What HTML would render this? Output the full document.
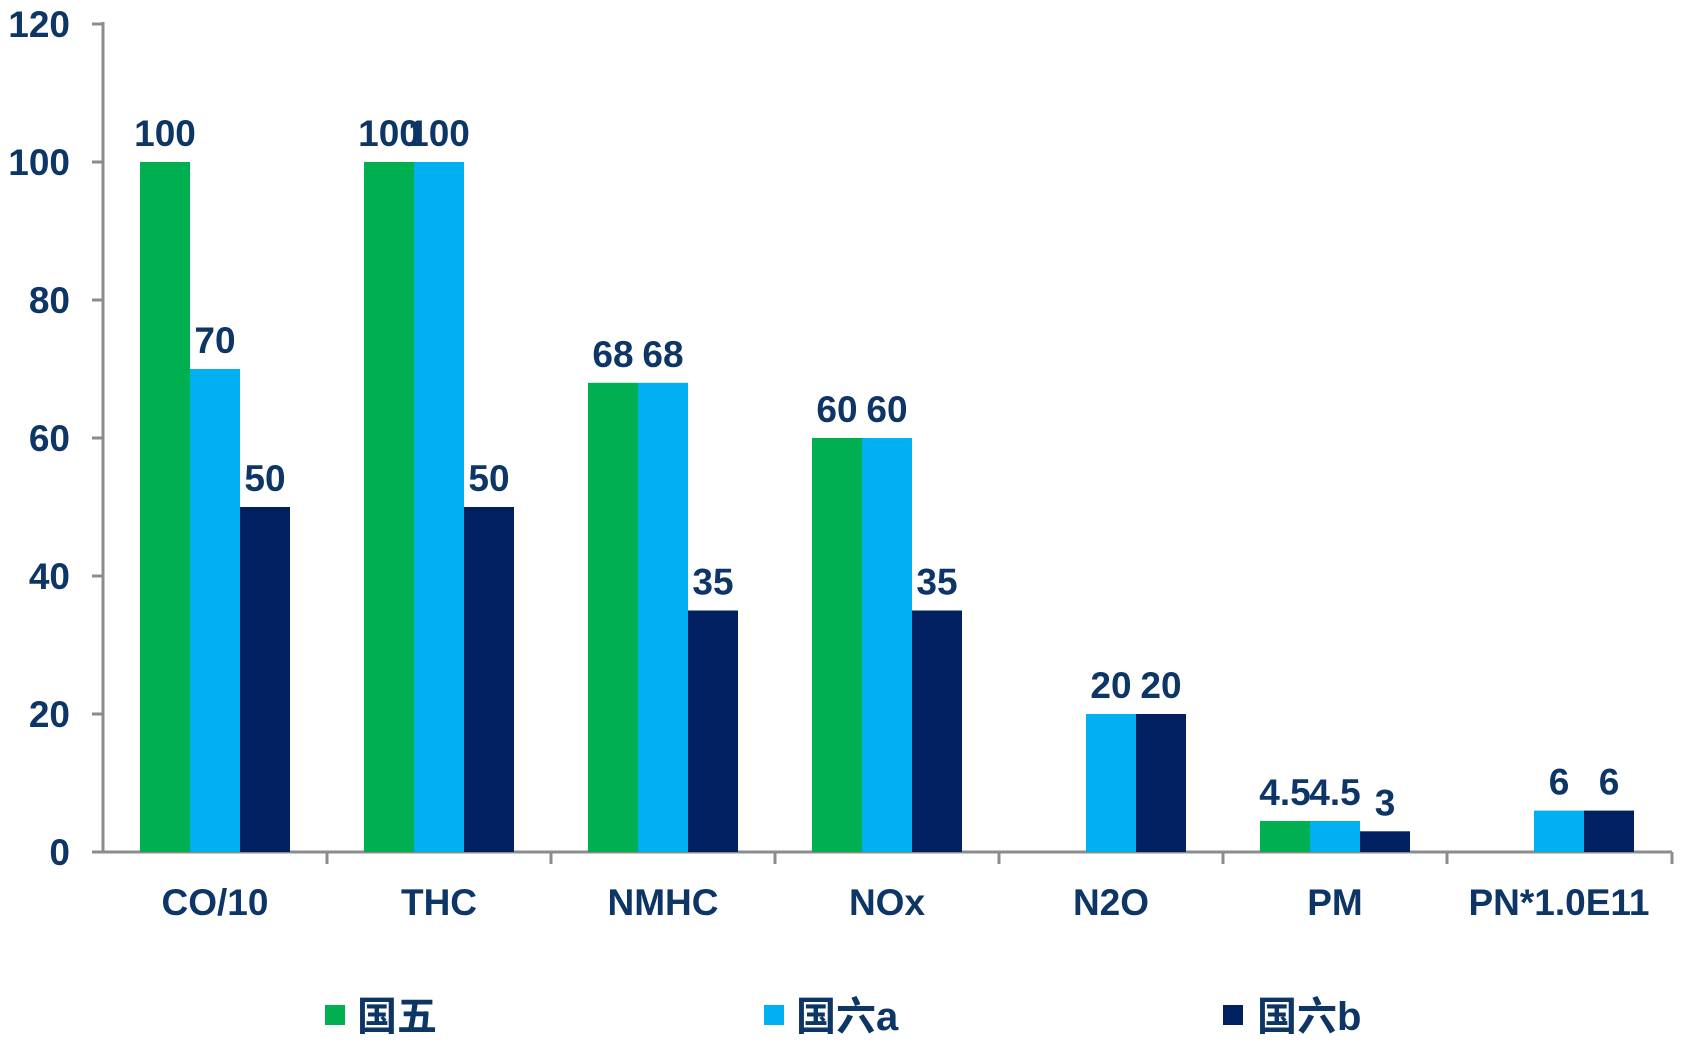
<!DOCTYPE html>
<html><head><meta charset="utf-8"><style>
html,body{margin:0;padding:0;background:#fff;width:1681px;height:1042px;overflow:hidden}
text{font-family:"Liberation Sans","Noto Sans CJK SC",sans-serif;font-weight:bold;fill:#0d3566}
</style></head><body>
<svg width="1681" height="1042" viewBox="0 0 1681 1042" xmlns="http://www.w3.org/2000/svg">
<g stroke="#8c8c8c" stroke-width="3" fill="none">
<line x1="103" y1="22" x2="103" y2="853"/>
<line x1="103" y1="852" x2="1672" y2="852"/>
<line x1="92" y1="24" x2="103" y2="24"/>
<line x1="92" y1="162" x2="103" y2="162"/>
<line x1="92" y1="300" x2="103" y2="300"/>
<line x1="92" y1="438" x2="103" y2="438"/>
<line x1="92" y1="576" x2="103" y2="576"/>
<line x1="92" y1="714" x2="103" y2="714"/>
<line x1="92" y1="852" x2="103" y2="852"/>
<line x1="327" y1="852" x2="327" y2="864"/>
<line x1="551" y1="852" x2="551" y2="864"/>
<line x1="775" y1="852" x2="775" y2="864"/>
<line x1="999" y1="852" x2="999" y2="864"/>
<line x1="1223" y1="852" x2="1223" y2="864"/>
<line x1="1447" y1="852" x2="1447" y2="864"/>
<line x1="1672" y1="852" x2="1672" y2="864"/>
</g>
<g font-size="37" text-anchor="end">
<text x="70" y="37">120</text><text x="70" y="175">100</text><text x="70" y="313">80</text>
<text x="70" y="451">60</text><text x="70" y="589">40</text><text x="70" y="727">20</text><text x="70" y="865">0</text>
</g>
<g id="bars"></g>
<g font-size="37" text-anchor="middle" id="lbls"></g>
<g font-size="37" text-anchor="middle">
<text x="215" y="915">CO/10</text><text x="439" y="915">THC</text><text x="663" y="915">NMHC</text>
<text x="887" y="915">NOx</text><text x="1111" y="915">N2O</text><text x="1335" y="915">PM</text><text x="1559" y="915">PN*1.0E11</text>
</g>
<rect x="325" y="1005" width="20" height="20" fill="#00b050"/>
<text x="357" y="1030" font-size="40">国五</text>
<rect x="764" y="1005" width="20" height="20" fill="#00b0f0"/>
<text x="796" y="1030" font-size="40">国六a</text>
<rect x="1223" y="1005" width="20" height="20" fill="#002060"/>
<text x="1257" y="1030" font-size="40">国六b</text>
</svg>
<script>
var d=[[100,70,50],[100,100,50],[68,68,35],[60,60,35],[null,20,20],[4.5,4.5,3],[null,6,6]];
var c=["#00b050","#00b0f0","#002060"],ns="http://www.w3.org/2000/svg";
var b=document.getElementById("bars"),l=document.getElementById("lbls");
d.forEach(function(g,i){var cx=103+224*i+112;g.forEach(function(v,j){if(v===null)return;
var x=cx-75+50*j,h=v*6.9,y=852-h;var r=document.createElementNS(ns,"rect");
r.setAttribute("x",x);r.setAttribute("y",y);r.setAttribute("width",50);r.setAttribute("height",h);r.setAttribute("fill",c[j]);b.appendChild(r);
var t=document.createElementNS(ns,"text");t.setAttribute("x",x+25);t.setAttribute("y",y-16);t.textContent=v;l.appendChild(t);});});
</script>
</body></html>
